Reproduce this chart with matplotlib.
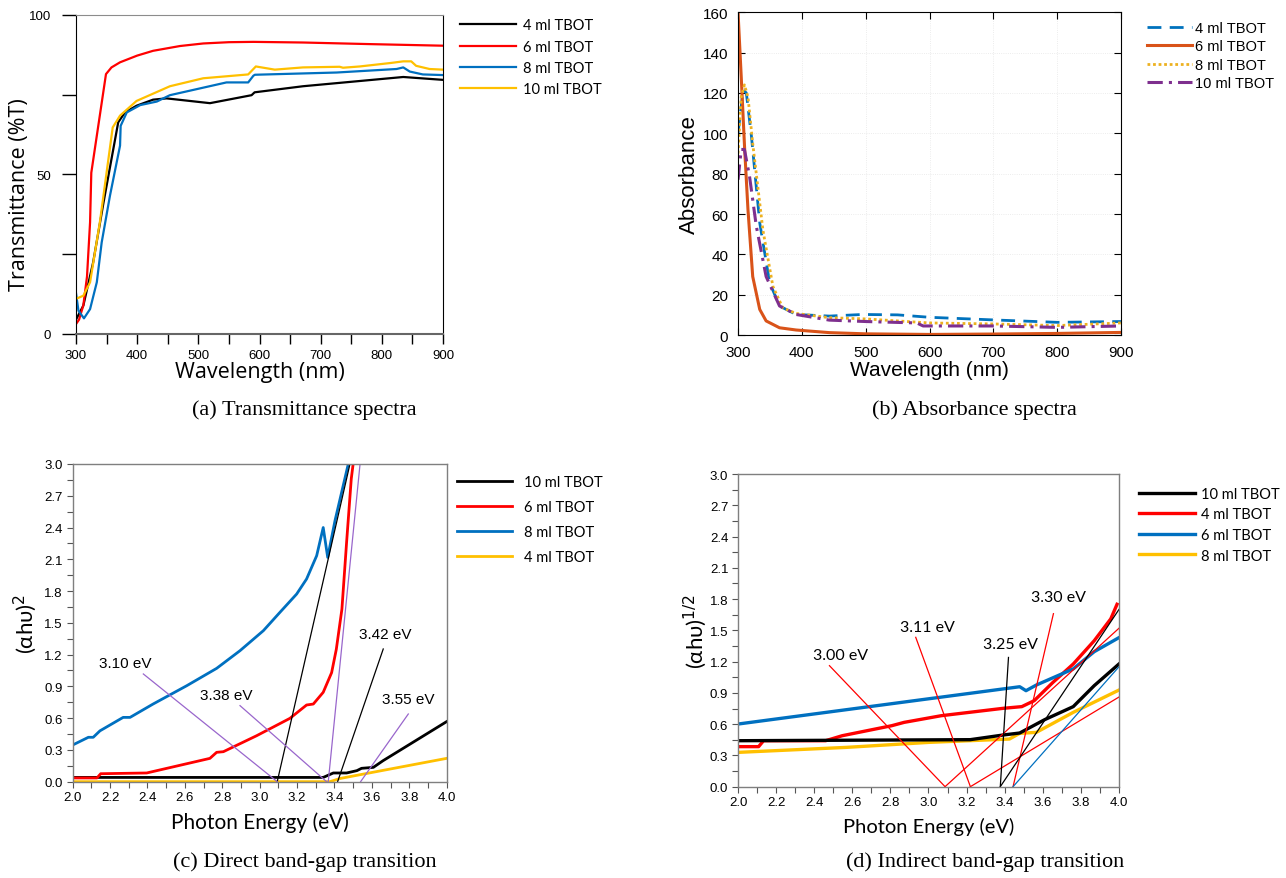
import matplotlib
matplotlib.use("Agg")
import matplotlib.pyplot as plt
from matplotlib.ticker import MultipleLocator

# ---- (a) transmittance spectra ----
a_wl_4 = [300, 312, 328, 345, 369, 380, 399, 426, 448, 519, 587, 592, 671, 835, 900]
a_t_4 = [4.5, 8.9, 22.4, 41.2, 66.3, 69.4, 71.5, 73.4, 73.8, 72.3, 74.8, 75.7, 77.6, 80.5, 79.6]
a_wl_6 = [300, 305, 312, 318, 323, 325, 349, 358, 372, 400, 426, 470, 508, 550, 590, 671, 780, 900]
a_t_6 = [3.1, 4.5, 9.0, 18.0, 35.0, 50.5, 81.4, 83.5, 85.1, 87.2, 88.7, 90.2, 91.0, 91.4, 91.5, 91.3, 90.8, 90.3]
a_wl_8 = [300, 304, 313, 323, 334, 342, 355.5, 372, 373, 383, 405, 432, 453.5, 546, 581.5, 590, 592.5,
          726, 824, 835, 845.6, 867, 900]
a_t_8 = [12.8, 7.3, 4.9, 7.8, 16.2, 28.7, 43.3, 59.0, 65.2, 69.4, 71.7, 72.8, 74.8, 78.8, 78.8, 80.9, 81.2,
         81.9, 83.0, 83.5, 82.2, 81.3, 81.1]
a_wl_10 = [300, 312, 323, 339, 360, 372, 399, 453.5, 508, 581.5, 594, 625, 671, 731, 736.5, 764, 815, 835,
           848, 856, 878, 900]
a_t_10 = [11.0, 12.0, 16.2, 35.0, 64.7, 68.4, 73.0, 77.6, 80.1, 81.3, 83.8, 82.8, 83.5, 83.7, 83.4, 83.8,
          84.9, 85.4, 85.4, 84.0, 83.0, 82.8]

# ---- (b) absorbance spectra ----
b_wl_4 = [300, 308, 313, 321, 334, 349.5, 365, 391, 443, 495, 550, 600, 700, 800, 900]
b_a_4 = [100, 121.6, 120, 98.5, 55.6, 26, 14.4, 10.2, 9.4, 10.2, 10.0, 8.8, 7.5, 6.3, 6.7]
b_wl_6 = [300, 305, 310.4, 315.6, 323, 334, 344, 365, 391, 443, 500, 600, 700, 800, 900]
b_a_6 = [160, 128, 92, 62, 29, 12.7, 7, 3.6, 2.5, 1.2, 0.6, 0.3, 0.5, 0.8, 1.3]
b_wl_8 = [300, 305, 310, 315.6, 323, 339, 354.7, 370, 391, 443, 500, 600, 700, 800, 900]
b_a_8 = [90, 118, 124, 118, 95, 52, 24, 13.5, 10.7, 8.6, 8.0, 6.0, 5.5, 4.7, 6.0]
b_wl_10 = [300, 305, 310, 318, 328.6, 344, 365, 391, 443, 500, 580, 590, 700, 800, 900]
b_a_10 = [77, 92, 92, 78.7, 54, 29, 14.4, 10.2, 7.4, 6.7, 6.0, 4.5, 4.5, 3.8, 4.5]

# ---- (c) direct band gap ----
c_e_8 = [2.0, 2.084, 2.11, 2.146, 2.27, 2.307, 2.43, 2.61, 2.77, 2.895, 3.02, 3.109, 3.198, 3.251, 3.305,
         3.34, 3.364, 3.403, 3.474]
c_y_8 = [0.346, 0.419, 0.419, 0.48, 0.607, 0.607, 0.733, 0.906, 1.07, 1.237, 1.426, 1.6, 1.772, 1.914,
         2.134, 2.4, 2.118, 2.465, 3.0]
c_e_6 = [2.0, 2.13, 2.15, 2.396, 2.734, 2.77, 2.806, 2.984, 3.162, 3.251, 3.287, 3.34, 3.385, 3.41, 3.44,
         3.465, 3.49, 3.5]
c_y_6 = [0.035, 0.035, 0.075, 0.082, 0.22, 0.277, 0.283, 0.434, 0.598, 0.724, 0.733, 0.844, 1.03, 1.25,
         1.63, 2.26, 2.86, 3.0]
c_e_10 = [2.0, 3.34, 3.394, 3.465, 3.52, 3.545, 3.608, 3.66, 4.0]
c_y_10 = [0.04, 0.04, 0.082, 0.082, 0.104, 0.126, 0.135, 0.198, 0.567]
c_e_4 = [2.0, 3.376, 3.43, 4.0]
c_y_4 = [0.0, 0.0, 0.03, 0.22]

c_fit_black = [([3.094, 3.483], [0, 3.0]), ([3.417, 3.661], [0, 1.253])]
c_fit_purple = [([3.367, 3.537], [0, 3.0]), ([2.378, 3.094], [1.017, 0]),
                ([2.895, 3.358], [0.718, 0]), ([3.795, 3.54], [0.639, 0])]
c_gap_text = ["3.10 eV", "3.38 eV", "3.42 eV", "3.55 eV"]
c_gap_x = [2.28, 2.82, 3.67, 3.795]
c_gap_y = [1.12, 0.82, 1.39, 0.78]

# ---- (d) indirect band gap ----
d_e_10 = [2.0, 3.219, 3.393, 3.479, 3.61, 3.76, 3.87, 4.0]
d_y_10 = [0.441, 0.451, 0.496, 0.515, 0.643, 0.768, 0.969, 1.177]
d_e_4 = [2.0, 2.108, 2.134, 2.46, 2.547, 2.807, 2.872, 3.067, 3.393, 3.49, 3.555, 3.653, 3.76, 3.87,
         3.957, 3.99]
d_y_4 = [0.384, 0.384, 0.441, 0.441, 0.489, 0.585, 0.617, 0.681, 0.752, 0.768, 0.825, 1.0, 1.177, 1.40,
         1.61, 1.75]
d_e_6 = [2.0, 3.479, 3.512, 3.566, 3.76, 3.87, 4.0]
d_y_6 = [0.601, 0.959, 0.921, 0.975, 1.13, 1.295, 1.43]
d_e_8 = [2.0, 2.568, 3.002, 3.425, 3.479, 3.566, 3.76, 4.0]
d_y_8 = [0.329, 0.377, 0.425, 0.457, 0.512, 0.521, 0.713, 0.927]

d_fit_red = [([2.48, 3.087], [1.161, 0]), ([3.087, 4.0], [0, 1.52]), ([2.933, 3.22], [1.433, 0]),
             ([3.22, 4.0], [0, 0.86]), ([3.444, 3.656], [0, 1.66])]
d_fit_black = [([3.377, 3.42], [0, 1.24]), ([3.377, 4.0], [0, 1.70])]
d_fit_blue = [([3.444, 4.0], [0, 1.15])]
d_gap_text = ["3.00 eV", "3.11 eV", "3.25 eV", "3.30 eV"]
d_gap_x = [2.536, 2.996, 3.43, 3.685]
d_gap_y = [1.263, 1.535, 1.369, 1.823]

RED = "#ff0000"
BLUE = "#0070c0"
YEL = "#ffc000"
ARIAL = ["Liberation Sans", "DejaVu Sans"]
NARROW = ["Liberation Sans Narrow", "Liberation Sans", "DejaVu Sans"]
CAL = ["Lato", "DejaVu Sans"]
SERIF = ["Liberation Serif", "DejaVu Serif"]

fig = plt.figure(figsize=(12.86, 8.79), dpi=100)

# ================= (a) =================
ax = fig.add_axes([0.0591, 0.6189, 0.2854, 0.3632])
ax.plot(a_wl_4, a_t_4, color="black", lw=1.6, label="4 ml TBOT")
ax.plot(a_wl_6, a_t_6, color=RED, lw=1.6, label="6 ml TBOT")
ax.plot(a_wl_8, a_t_8, color=BLUE, lw=1.6, label="8 ml TBOT")
ax.plot(a_wl_10, a_t_10, color=YEL, lw=1.6, label="10 ml TBOT")
ax.set_xlim(300, 900)
ax.set_ylim(0, 100)
ax.set_xticks([300, 400, 500, 600, 700, 800, 900])
ax.xaxis.set_minor_locator(MultipleLocator(50))
ax.set_yticks([0, 50, 100])
ax.yaxis.set_minor_locator(MultipleLocator(25))
ax.tick_params(axis="both", which="both", direction="out", length=7, width=1, labelsize=9.5)
ax.tick_params(axis="y", which="both", length=10, pad=8)
for lab in ax.get_xticklabels() + ax.get_yticklabels():
    lab.set_family(ARIAL)
ax.spines["top"].set_color("#8c8c8c")
ax.spines["bottom"].set_color("#666666")
ax.spines["bottom"].set_linewidth(1.5)
ax.set_xlabel("Wavelength (nm)", fontsize=15.5, family=["Open Sans", "DejaVu Sans"], labelpad=0)
ax.set_ylabel("Transmittance (%T)", fontsize=15.5, family=["Open Sans", "DejaVu Sans"])
ax.yaxis.set_label_coords(-0.125, 0.44)
ax.legend(loc="upper left", bbox_to_anchor=(0.358, 0.978), bbox_transform=fig.transFigure,
          frameon=False, handlelength=3.8, handletextpad=0.5, labelspacing=0.5,
          borderpad=0, borderaxespad=0, prop={"family": CAL, "size": 10.5})
fig.text(0.237, 0.533, "(a) Transmittance spectra", ha="center", va="center", fontsize=16, family=SERIF)

# ================= (b) =================
ax = fig.add_axes([0.5739, 0.6177, 0.2978, 0.3672])
ax.plot(b_wl_4, b_a_4, color="#0072bd", lw=2, ls=(0, (5, 3)), label="4 ml TBOT")
ax.plot(b_wl_6, b_a_6, color="#d95319", lw=2.2, label="6 ml TBOT")
ax.plot(b_wl_8, b_a_8, color="#edb120", lw=2, ls=(0, (1, 1)), label="8 ml TBOT")
ax.plot(b_wl_10, b_a_10, color="#7e2f8e", lw=2.2, ls=(0, (5, 2, 1, 2)), label="10 ml TBOT")
ax.set_xlim(300, 900)
ax.set_ylim(0, 160)
ax.set_xticks([300, 400, 500, 600, 700, 800, 900])
ax.set_yticks(range(0, 161, 20))
ax.grid(True, ls=":", color="#e6e6e6", lw=0.6)
ax.tick_params(axis="both", direction="in", top=True, right=True, length=5, labelsize=11, pad=7)
for lab in ax.get_xticklabels() + ax.get_yticklabels():
    lab.set_family(ARIAL)
ax.set_xlabel("Wavelength (nm)", fontsize=15, family=ARIAL, labelpad=1)
ax.set_ylabel("Absorbance", fontsize=16, family=ARIAL, labelpad=2)
ax.legend(loc="upper left", bbox_to_anchor=(0.892, 0.975), bbox_transform=fig.transFigure,
          frameon=False, handlelength=3.1, handletextpad=0.15, labelspacing=0.3,
          borderpad=0, borderaxespad=0, prop={"family": ARIAL, "size": 10.5})
fig.text(0.758, 0.533, "(b) Absorbance spectra", ha="center", va="center", fontsize=16, family=SERIF)


def band_axes(ax):
    ax.set_xlim(2.0, 4.0)
    ax.set_ylim(0, 3.0)
    ax.xaxis.set_major_locator(MultipleLocator(0.2))
    ax.xaxis.set_minor_locator(MultipleLocator(0.1))
    ax.yaxis.set_major_locator(MultipleLocator(0.3))
    ax.yaxis.set_minor_locator(MultipleLocator(0.15))
    ax.xaxis.set_major_formatter(lambda v, p: f"{v:.1f}")
    ax.yaxis.set_major_formatter(lambda v, p: f"{v:.1f}")
    ax.tick_params(axis="both", which="both", direction="out", length=4, width=0.8,
                   color="#555555", labelsize=9.5, pad=3)
    for lab in ax.get_xticklabels() + ax.get_yticklabels():
        lab.set_family(NARROW)
    for s in ax.spines.values():
        s.set_color("#7f7f7f")
        s.set_linewidth(1.0)


# ================= (c) =================
ax = fig.add_axes([0.0565, 0.1096, 0.2908, 0.3614])
ax.plot(c_e_4, c_y_4, color=YEL, lw=2, label="4 ml TBOT")
ax.plot(c_e_10, c_y_10, color="black", lw=2, label="10 ml TBOT")
ax.plot(c_e_6, c_y_6, color=RED, lw=2, label="6 ml TBOT")
ax.plot(c_e_8, c_y_8, color=BLUE, lw=2, label="8 ml TBOT")
for xs, ys in c_fit_black:
    ax.plot(xs, ys, color="black", lw=0.9)
for xs, ys in c_fit_purple:
    ax.plot(xs, ys, color="#9966cc", lw=0.9)
for t, x, y in zip(c_gap_text, c_gap_x, c_gap_y):
    ax.text(x, y, t, ha="center", va="center", fontsize=11, family=ARIAL)
band_axes(ax)
ax.set_xlabel("Photon Energy (eV)", fontsize=15, family=CAL, labelpad=6)
ax.set_ylabel("(αhυ)$^2$", fontsize=16, family=CAL)
ax.yaxis.set_label_coords(-0.09, 0.5)
h, l = ax.get_legend_handles_labels()
order = [1, 2, 3, 0]
ax.legend([h[i] for i in order], [l[i] for i in order], loc="upper left",
          bbox_to_anchor=(0.355, 0.458), bbox_transform=fig.transFigure, frameon=False,
          handlelength=3.8, handletextpad=0.8, labelspacing=0.75, borderpad=0, borderaxespad=0,
          prop={"family": CAL, "size": 10.5})
fig.text(0.237, 0.019, "(c) Direct band-gap transition", ha="center", va="center", fontsize=16, family=SERIF)

# ================= (d) =================
ax = fig.add_axes([0.5739, 0.1039, 0.2962, 0.3557])
ax.plot(d_e_8, d_y_8, color=YEL, lw=2.4, label="8 ml TBOT")
ax.plot(d_e_4, d_y_4, color=RED, lw=2.4, label="4 ml TBOT")
ax.plot(d_e_10, d_y_10, color="black", lw=2.4, label="10 ml TBOT")
ax.plot(d_e_6, d_y_6, color=BLUE, lw=2.4, label="6 ml TBOT")
for xs, ys in d_fit_red:
    ax.plot(xs, ys, color=RED, lw=0.9)
for xs, ys in d_fit_black:
    ax.plot(xs, ys, color="black", lw=0.9)
for xs, ys in d_fit_blue:
    ax.plot(xs, ys, color=BLUE, lw=0.9)
for t, x, y in zip(d_gap_text, d_gap_x, d_gap_y):
    ax.text(x, y, t, ha="center", va="center", fontsize=11.5, family=CAL)
band_axes(ax)
ax.set_xlabel("Photon Energy (eV)", fontsize=14.5, family=CAL, labelpad=6)
ax.set_ylabel("(αhυ)$^{1/2}$", fontsize=16, family=CAL)
ax.yaxis.set_label_coords(-0.075, 0.5)
h, l = ax.get_legend_handles_labels()
order = [2, 1, 3, 0]
ax.legend([h[i] for i in order], [l[i] for i in order], loc="upper left",
          bbox_to_anchor=(0.886, 0.445), bbox_transform=fig.transFigure, frameon=False,
          handlelength=3.8, handletextpad=0.4, labelspacing=0.45, borderpad=0, borderaxespad=0,
          prop={"family": CAL, "size": 10.5})
fig.text(0.766, 0.019, "(d) Indirect band-gap transition", ha="center", va="center", fontsize=16, family=SERIF)

fig.savefig("out.png", dpi=100)
